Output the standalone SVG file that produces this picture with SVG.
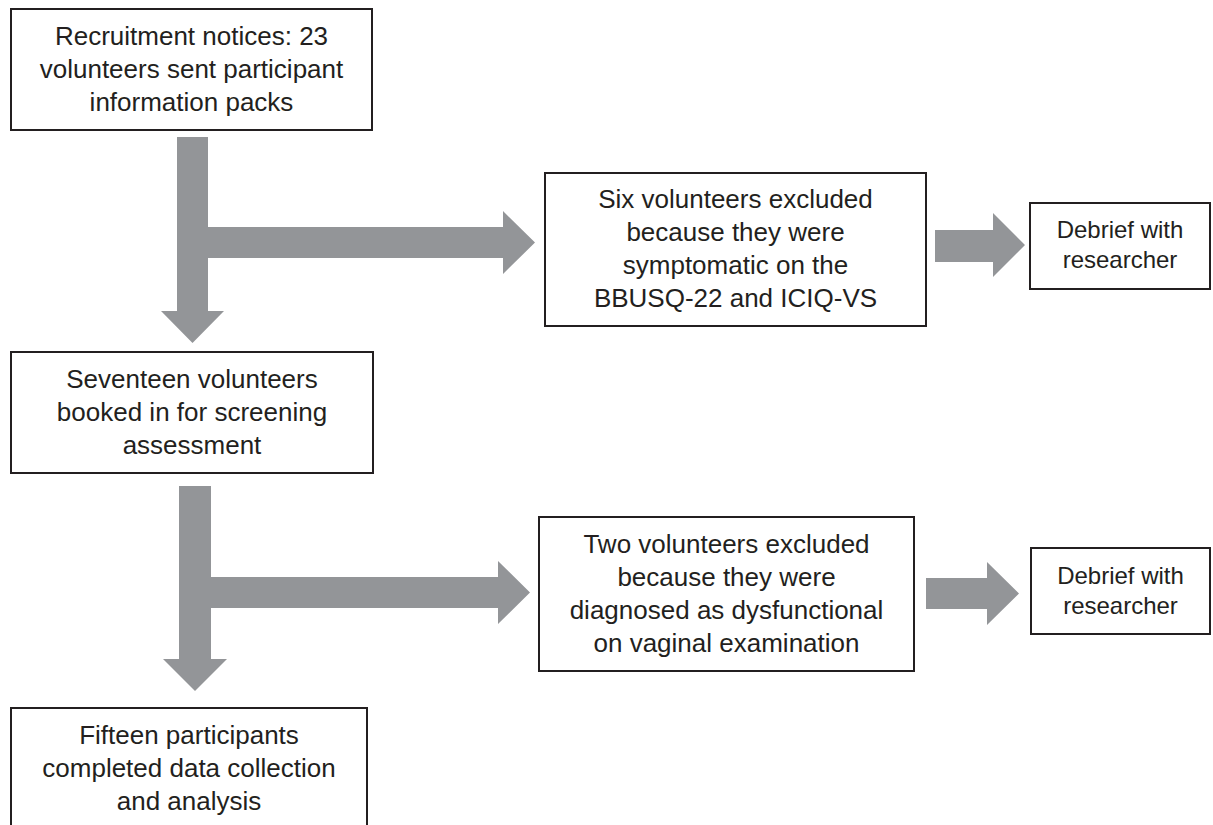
<svg xmlns="http://www.w3.org/2000/svg" width="1213" height="825" viewBox="0 0 1213 825">
<style>
.box{fill:#ffffff;stroke:#231f20;stroke-width:2}
.arr{fill:#939598;stroke:none}
text{font-family:"Liberation Sans",Arial,sans-serif;font-size:26px;fill:#231f20;text-anchor:middle}
.sm{font-size:24px}
</style>
<rect width="1213" height="825" fill="#ffffff"/>
<g id="connectors">
<path class="arr" d="M177,137 H208 V227 H503 V211 L535,242.5 L503,274 V258 H208 V311 H224 L192.5,343 L161,311 H177 Z"/>
<path class="arr" d="M179,486 H211 V577 H498 V561 L530,592.5 L498,624 V608 H211 V659 H227 L195,691 L163,659 H179 Z"/>
<path class="arr" d="M935,230 H993 V213 L1025,245 L993,277 V262 H935 Z"/>
<path class="arr" d="M926,578 H987 V562 L1019,593.5 L987,625 V609 H926 Z"/>
</g>
<g id="n1">
<rect class="box" x="11" y="9" width="361" height="121"/>
<text x="191.5" y="45">Recruitment notices: 23</text>
<text x="191.5" y="78">volunteers sent participant</text>
<text x="191.5" y="111">information packs</text>
</g>
<g id="n2">
<rect class="box" x="545" y="173" width="381" height="153"/>
<text x="735.5" y="208">Six volunteers excluded</text>
<text x="735.5" y="241">because they were</text>
<text x="735.5" y="274">symptomatic on the</text>
<text x="735.5" y="307">BBUSQ-22 and ICIQ-VS</text>
</g>
<g id="n3">
<rect class="box" x="1030" y="203" width="180" height="86"/>
<text class="sm" x="1120" y="238">Debrief with</text>
<text class="sm" x="1120" y="268">researcher</text>
</g>
<g id="n4">
<rect class="box" x="11" y="352" width="362" height="121"/>
<text x="192" y="388">Seventeen volunteers</text>
<text x="192" y="421">booked in for screening</text>
<text x="192" y="454">assessment</text>
</g>
<g id="n5">
<rect class="box" x="539" y="517" width="375" height="154"/>
<text x="726.5" y="553">Two volunteers excluded</text>
<text x="726.5" y="586">because they were</text>
<text x="726.5" y="619">diagnosed as dysfunctional</text>
<text x="726.5" y="652">on vaginal examination</text>
</g>
<g id="n6">
<rect class="box" x="1031" y="548" width="179" height="86"/>
<text class="sm" x="1120.5" y="584">Debrief with</text>
<text class="sm" x="1120.5" y="614">researcher</text>
</g>
<g id="n7">
<rect class="box" x="11" y="708" width="356" height="125"/>
<text x="189" y="744">Fifteen participants</text>
<text x="189" y="777">completed data collection</text>
<text x="189" y="810">and analysis</text>
</g>
</svg>
